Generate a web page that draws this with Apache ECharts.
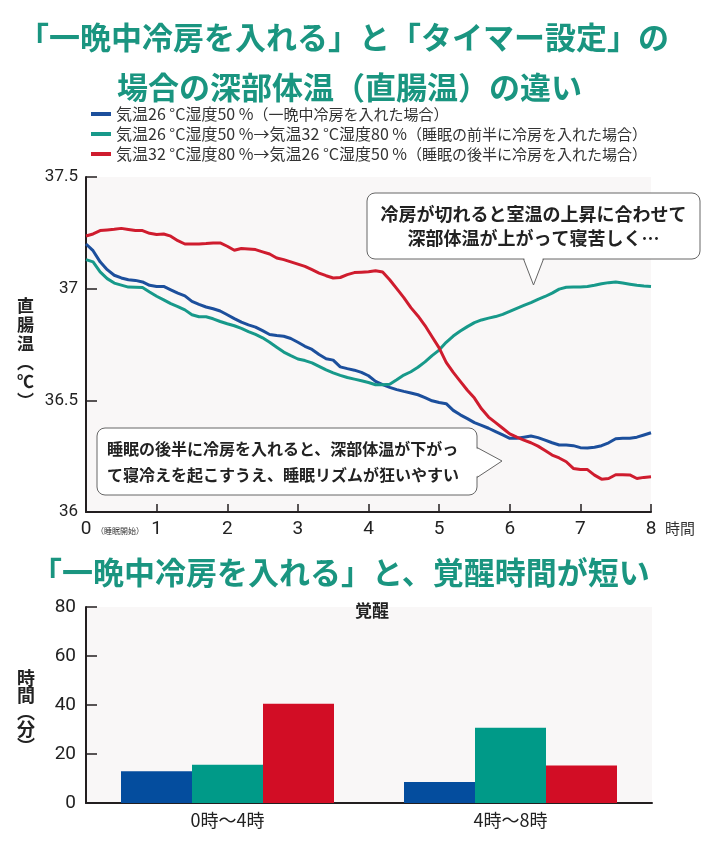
<!DOCTYPE html>
<html lang="ja">
<head>
    <meta charset="UTF-8">
    <title>深部体温と覚醒時間</title>
    <style>
        html, body { margin: 0; padding: 0; background: #fff; }
        #main { width: 710px; height: 841px; }
    </style>
</head>
<body>
    <div id="main"></div>
    <script src="https://cdn.jsdelivr.net/npm/echarts@6/dist/echarts.min.js"></script>
    <script>
        // 系列名（凡例）
        var names = [
            '気温26 °C湿度50 %（一晩中冷房を入れた場合）',
            '気温26 °C湿度50 %→気温32 °C湿度80 %（睡眠の前半に冷房を入れた場合）',
            '気温32 °C湿度80 %→気温26 °C湿度50 %（睡眠の後半に冷房を入れた場合）'
        ];
        var colors = ['#1c4f9c', '#17998a', '#cf1c2e'];
        var barColors = ['#044d9e', '#009a88', '#d20d25'];

        // 経過時間（睡眠開始から）
        var hours = [
            0, 0.1, 0.2, 0.3, 0.4, 0.5, 0.6, 0.7, 0.8, 0.9,
            1, 1.1, 1.2, 1.3, 1.4, 1.5, 1.6, 1.7, 1.8, 1.9,
            2, 2.1, 2.2, 2.3, 2.4, 2.5, 2.6, 2.7, 2.8, 2.9,
            3, 3.1, 3.2, 3.3, 3.4, 3.5, 3.6, 3.7, 3.8, 3.9,
            4, 4.1, 4.2, 4.3, 4.4, 4.5, 4.6, 4.7, 4.8, 4.9,
            5, 5.1, 5.2, 5.3, 5.4, 5.5, 5.6, 5.7, 5.8, 5.9,
            6, 6.1, 6.2, 6.3, 6.4, 6.5, 6.6, 6.7, 6.8, 6.9,
            7, 7.1, 7.2, 7.3, 7.4, 7.5, 7.6, 7.7, 7.8, 7.9,
            8
        ];

        // 直腸温（℃）: 一晩中冷房
        var tempAllNight = [
            37.20, 37.17, 37.12, 37.085, 37.06, 37.048, 37.04, 37.037, 37.03, 37.015,
            37.01, 37.01, 36.995, 36.98, 36.968, 36.943, 36.93, 36.918, 36.91, 36.90,
            36.883, 36.866, 36.85, 36.838, 36.828, 36.812, 36.795, 36.79, 36.787, 36.777,
            36.76, 36.742, 36.728, 36.705, 36.686, 36.68, 36.65, 36.642, 36.635, 36.625,
            36.61, 36.585, 36.57, 36.558, 36.548, 36.54, 36.533, 36.525, 36.512, 36.498,
            36.49, 36.485, 36.455, 36.435, 36.418, 36.40, 36.388, 36.375, 36.36, 36.345,
            36.33, 36.33, 36.335, 36.34, 36.333, 36.322, 36.31, 36.30, 36.30, 36.297,
            36.288, 36.287, 36.29, 36.297, 36.31, 36.328, 36.33, 36.33, 36.335, 36.345,
            36.355
        ];
        // 前半だけ冷房
        var tempFirstHalf = [
            37.13, 37.12, 37.075, 37.045, 37.025, 37.016, 37.007, 37.006, 37.005, 36.985,
            36.966, 36.95, 36.933, 36.92, 36.905, 36.883, 36.874, 36.874, 36.865, 36.853,
            36.843, 36.834, 36.822, 36.808, 36.795, 36.78, 36.76, 36.738, 36.716, 36.70,
            36.685, 36.678, 36.668, 36.652, 36.636, 36.623, 36.612, 36.602, 36.595, 36.588,
            36.58, 36.57, 36.57, 36.572, 36.592, 36.613, 36.628, 36.648, 36.672, 36.70,
            36.725, 36.76, 36.788, 36.81, 36.83, 36.848, 36.86, 36.868, 36.875, 36.885,
            36.898, 36.912, 36.925, 36.938, 36.952, 36.965, 36.98, 36.998, 37.006, 37.007,
            37.008, 37.01, 37.015, 37.022, 37.027, 37.03, 37.025, 37.02, 37.015, 37.012,
            37.01
        ];
        // 後半だけ冷房
        var tempSecondHalf = [
            37.236, 37.245, 37.26, 37.263, 37.266, 37.27, 37.265, 37.26, 37.26, 37.248,
            37.243, 37.245, 37.235, 37.215, 37.20, 37.20, 37.20, 37.202, 37.205, 37.205,
            37.19, 37.172, 37.18, 37.178, 37.175, 37.165, 37.155, 37.137, 37.13, 37.12,
            37.11, 37.10, 37.085, 37.07, 37.058, 37.048, 37.05, 37.063, 37.072, 37.074,
            37.076, 37.08, 37.075, 37.04, 37.0, 36.96, 36.915, 36.878, 36.835, 36.785,
            36.735, 36.67, 36.625, 36.585, 36.545, 36.51, 36.462, 36.425, 36.40, 36.375,
            36.35, 36.335, 36.322, 36.31, 36.295, 36.275, 36.255, 36.242, 36.225, 36.195,
            36.19, 36.19, 36.165, 36.147, 36.15, 36.167, 36.167, 36.166, 36.15, 36.155,
            36.158
        ];

        // 覚醒時間（分）
        var periods = ['0時〜4時', '4時〜8時'];
        var wakeAllNight = [13, 8.6];
        var wakeFirstHalf = [15.6, 30.7];
        var wakeSecondHalf = [40.5, 15.3];

        var tempSeries = [tempAllNight, tempFirstHalf, tempSecondHalf];
        var wakeSeries = [wakeAllNight, wakeFirstHalf, wakeSecondHalf];

        function pairs(vals) {
            return hours.map(function (h, i) { return [h, vals[i]]; });
        }

        var FONT = '"Noto Sans CJK JP", "Noto Sans", sans-serif';
        var NUM = 'Roboto, "Noto Sans", sans-serif';
        var AX = '#231f20';
        var TEAL = '#1a9580';

        var myChart = echarts.init(document.getElementById('main'));

        var series = [];
        tempSeries.forEach(function (vals, i) {
            series.push({
                name: names[i],
                type: 'line',
                xAxisIndex: 0,
                yAxisIndex: 0,
                data: pairs(vals),
                symbol: 'none',
                lineStyle: { width: 3, color: colors[i] },
                itemStyle: { color: colors[i] },
                z: 3
            });
        });
        wakeSeries.forEach(function (vals, i) {
            series.push({
                name: names[i],
                type: 'bar',
                xAxisIndex: 1,
                yAxisIndex: 1,
                data: vals,
                barWidth: 71,
                barGap: '0%',
                itemStyle: { color: barColors[i] }
            });
        });

        var titleStyle = { fontFamily: FONT, fontSize: 31, fontWeight: 'bold', color: TEAL };

        var option = {
            backgroundColor: '#fff',
            animation: false,
            textStyle: { fontFamily: FONT },
            title: [
                { text: '「一晩中冷房を入れる」と「タイマー設定」の', left: 13, top: 17, textStyle: titleStyle },
                { text: '場合の深部体温（直腸温）の違い', left: 112, top: 67, textStyle: titleStyle },
                { text: '「一晩中冷房を入れる」と、覚醒時間が短い', left: 26, top: 552, textStyle: titleStyle },
                {
                    text: '覚醒',
                    left: 350, top: 597,
                    textStyle: { fontFamily: FONT, fontSize: 17, fontWeight: 'bold', color: '#222' }
                }
            ],
            legend: {
                data: names,
                orient: 'vertical',
                left: 86,
                top: 101,
                itemWidth: 20,
                itemHeight: 4,
                itemGap: 4,
                icon: 'rect',
                selectedMode: false,
                formatter: function (name) {
                    var k = name.indexOf('（');
                    return '{m|' + name.slice(0, k) + '}{p|' + name.slice(k) + '}';
                },
                textStyle: {
                    fontFamily: FONT, color: '#333',
                    rich: {
                        m: { fontFamily: FONT, fontSize: 16, color: '#333', lineHeight: 18 },
                        p: { fontFamily: FONT, fontSize: 15, color: '#333', lineHeight: 18 }
                    }
                }
            },
            grid: [
                { left: 86, top: 177, width: 565, height: 335, show: true, backgroundColor: '#f9f7f7', borderWidth: 0 },
                { left: 86, top: 607, width: 566, height: 196, show: true, backgroundColor: '#f9f7f7', borderWidth: 0 }
            ],
            xAxis: [
                {
                    gridIndex: 0,
                    type: 'value',
                    min: 0, max: 8, interval: 1,
                    name: '時間',
                    nameLocation: 'end',
                    nameGap: 14,
                    nameTextStyle: { fontFamily: FONT, fontSize: 15, color: '#333', verticalAlign: 'top', padding: [9, 0, 0, 0] },
                    axisLine: { lineStyle: { color: AX, width: 2 } },
                    axisTick: { inside: true, length: 8, lineStyle: { color: AX, width: 1.5 } },
                    axisLabel: { fontFamily: NUM, fontSize: 19, color: '#222', margin: 8 },
                    splitLine: { show: false }
                },
                {
                    gridIndex: 1,
                    type: 'category',
                    data: periods,
                    axisLine: { lineStyle: { color: AX, width: 2 } },
                    axisTick: { show: false },
                    axisLabel: { fontFamily: FONT, fontSize: 18, color: '#222', margin: 8 },
                    splitLine: { show: false }
                }
            ],
            yAxis: [
                {
                    gridIndex: 0,
                    type: 'value',
                    min: 36, max: 37.5, interval: 0.5,
                    axisLine: { show: true, lineStyle: { color: AX, width: 2 } },
                    axisTick: { show: true, inside: true, length: 11, lineStyle: { color: AX, width: 1.5 } },
                    axisLabel: { fontFamily: NUM, fontSize: 17, color: '#222', margin: 8 },
                    splitLine: { show: false }
                },
                {
                    gridIndex: 1,
                    type: 'value',
                    min: 0, max: 80, interval: 20,
                    axisLine: { show: true, lineStyle: { color: AX, width: 2 } },
                    axisTick: { show: true, inside: true, length: 11, lineStyle: { color: AX, width: 1.5 } },
                    axisLabel: { fontFamily: NUM, fontSize: 19, color: '#222', margin: 10 },
                    splitLine: { show: false }
                }
            ],
            graphic: [
                // 縦書きの軸名
                {
                    type: 'text', left: 17, top: 296, z: 10,
                    style: { text: '直\n腸\n温\n︵\n℃\n︶', font: 'bold 17px ' + FONT, fill: '#222', lineHeight: 19, textAlign: 'center' }
                },
                {
                    type: 'text', left: 17, top: 669, z: 10,
                    style: { text: '時\n間\n︵\n分\n︶', font: 'bold 18px ' + FONT, fill: '#222', lineHeight: 17, textAlign: 'center' }
                },
                {
                    type: 'text', left: 96, top: 527, z: 10,
                    style: { text: '（睡眠開始）', font: '8px ' + FONT, fill: '#333' }
                },
                // 吹き出し（右上）
                {
                    type: 'rect', z: 20,
                    shape: { x: 367, y: 193, width: 333, height: 66, r: 8 },
                    style: { fill: '#fff', stroke: '#666', lineWidth: 1 }
                },
                {
                    type: 'polygon', z: 21,
                    shape: { points: [[524, 257.5], [543, 257.5], [533.5, 285], [524, 257.5]] },
                    style: { fill: '#fff', stroke: null }
                },
                {
                    type: 'polyline', z: 22,
                    shape: { points: [[523.5, 259], [533.5, 285], [543.5, 259]] },
                    style: { fill: null, stroke: '#666', lineWidth: 1 }
                },
                {
                    type: 'text', z: 23, x: 533.5, y: 226,
                    style: {
                        text: '冷房が切れると室温の上昇に合わせて\n深部体温が上がって寝苦しく…',
                        font: 'bold 18px ' + FONT, fill: '#222', textAlign: 'center', textVerticalAlign: 'middle', lineHeight: 24
                    }
                },
                // 吹き出し（左下）
                {
                    type: 'rect', z: 20,
                    shape: { x: 97, y: 428, width: 380, height: 67, r: 8 },
                    style: { fill: '#fff', stroke: '#666', lineWidth: 1 }
                },
                {
                    type: 'polygon', z: 21,
                    shape: { points: [[475.5, 448], [475.5, 477], [502, 461], [475.5, 448]] },
                    style: { fill: '#fff', stroke: null }
                },
                {
                    type: 'polyline', z: 22,
                    shape: { points: [[477, 447.5], [502, 461], [477, 477.5]] },
                    style: { fill: null, stroke: '#666', lineWidth: 1 }
                },
                {
                    type: 'text', z: 23, x: 107, y: 462,
                    style: {
                        text: '睡眠の後半に冷房を入れると、深部体温が下がっ\nて寝冷えを起こすうえ、睡眠リズムが狂いやすい',
                        font: 'bold 16px ' + FONT, fill: '#222', textAlign: 'left', textVerticalAlign: 'middle', lineHeight: 26
                    }
                }
            ],
            series: series
        };

        myChart.setOption(option);
    </script>
</body>
</html>
